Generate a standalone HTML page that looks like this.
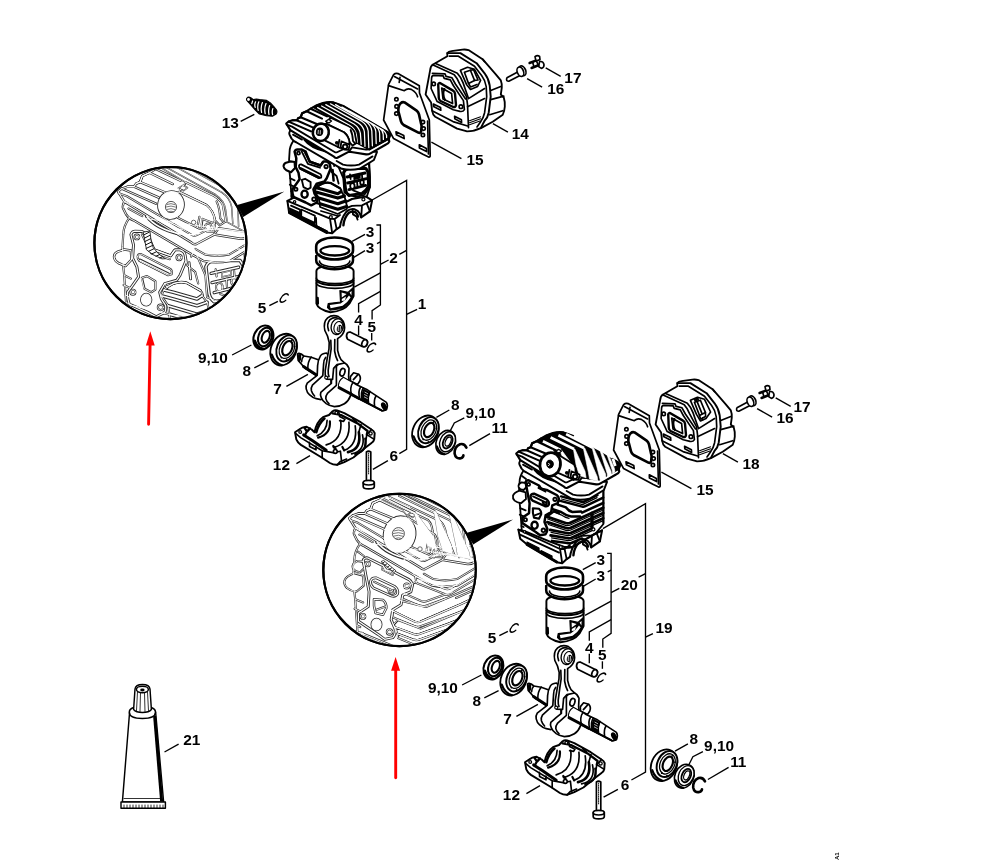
<!DOCTYPE html>
<html><head><meta charset="utf-8"><title>Engine parts diagram</title>
<style>
html,body{margin:0;padding:0;background:#fff;}
body{width:994px;height:861px;overflow:hidden;font-family:"Liberation Sans",sans-serif;}
svg{display:block;position:absolute;left:0;top:0;filter:blur(0.4px);}
.k{stroke:var(--c,#000);stroke-width:calc(var(--s,1)*1.45px);fill:var(--fw,#fff);stroke-linejoin:round;stroke-linecap:round;}
.n{stroke:var(--c,#000);stroke-width:calc(var(--s,1)*1.45px);fill:none;stroke-linejoin:round;stroke-linecap:round;}
.k2{stroke:var(--c,#000);stroke-width:calc(var(--s,1)*2.15px);fill:var(--fw,#fff);stroke-linejoin:round;stroke-linecap:round;}
.n2{stroke:var(--c,#000);stroke-width:calc(var(--s,1)*2.15px);fill:none;stroke-linejoin:round;stroke-linecap:round;}
.t{stroke:var(--c,#000);stroke-width:calc(var(--s,1)*0.8px);fill:none;stroke-linejoin:round;stroke-linecap:round;}
.b{stroke:var(--c,#000);stroke-width:calc(var(--s,1)*2.2px);fill:none;stroke-linejoin:round;stroke-linecap:round;}
.f{fill:var(--fb,#000);stroke:var(--c,#000);stroke-width:calc(var(--s,1)*1px);stroke-linejoin:round;}
.l{stroke:#000;stroke-width:1.35;fill:none;stroke-linecap:butt;}
.m{stroke:#222;stroke-width:0.8;fill:none;stroke-linejoin:round;stroke-linecap:round;}
.mw{stroke:#222;stroke-width:0.8;fill:#fff;stroke-linejoin:round;stroke-linecap:round;}
text{font-family:"Liberation Sans",sans-serif;font-weight:bold;font-size:15.4px;fill:#000;text-anchor:middle;}
</style></head><body>
<svg width="994" height="861" viewBox="0 0 994 861">
<rect x="0" y="0" width="994" height="861" fill="#fff"/>
<defs>
<!-- ===== rings (3,3) ===== -->
<g id="rings">
  <!-- lower ring -->
  <path class="b" fill="#fff" d="M316.2,256 L316.2,260.6 A18.4,8.6 0 0 0 353,260.6 L353,256" style="fill:#fff"/>
  <path class="n" d="M319.5,261 A15,6 0 0 0 349.8,261"/>
  <!-- upper ring -->
  <path d="M316.2,246.2 A18.4,8.7 0 0 1 353,246.2 L353,250.8 A18.4,8.7 0 0 1 316.2,250.8 Z" fill="#fff" style="stroke-width:calc(var(--s,1)*2.3px);stroke:var(--c,#000)"/>
  <ellipse cx="334.8" cy="250.8" rx="14.4" ry="4.7" fill="#fff" style="stroke-width:calc(var(--s,1)*2px);stroke:var(--c,#000)"/>
  <path class="t" d="M319,253.5 A16,6.5 0 0 0 350.5,253.5"/>
</g>
<!-- ===== piston ===== -->
<g id="piston">
  <path class="k" d="M316.4,271 L316.4,303.5 Q318,309.5 330.5,312.3 Q344,311 349.5,303.5 L353.6,296 L353.6,271 A18.6,6 0 0 0 316.4,271 Z" style="stroke-width:calc(var(--s,1)*1.7px)"/>
  <path class="n" d="M316.4,278.2 A18.6,5.4 0 0 0 353.6,278.2"/>
  <path class="b" d="M316.6,280.6 A18.6,5.4 0 0 0 353.4,280.6" style="stroke-width:calc(var(--s,1)*1.8px)"/>
  <path class="n" d="M316.4,283 A18.6,5.4 0 0 0 353.6,283"/>
  <!-- skirt cutout -->
  <path class="f" d="M339.9,290.6 L348,292.4 L352.9,288 L352.9,297.1 L348.3,303.6 Q345,307 340.5,308.8 L330.1,310.1 L327.5,307.5 L328.2,303.6 L340.5,302 Z"/>
  <path d="M329.8,305 L340.6,303.6 Q345.6,300.6 349,295.4 L350.6,297.6 Q347.4,303 342.6,305.8 L330.6,308.2 Z" fill="#fff"/>
  <path d="M341.6,292.6 L346.6,294 L341.8,297.6 Z M341.8,299 L346,296.4 L345,300.4 L341.8,301 Z M349.6,292.6 L351.6,291 L351.4,295.4 Z" fill="#fff"/>
  <path class="n" d="M317.6,298 L317.8,303.6" style="stroke-width:calc(var(--s,1)*2.2px)"/>
</g>
<!-- ===== wrist pin (4) ===== -->
<g id="pin">
  <path class="k" d="M347.2,333.2 Q345.6,336.8 347.6,339.2 L362.2,346.4 Q366.6,347.4 367.4,343.6 Q368,340.6 365.2,339.4 L350.6,332.2 Q348.2,331.6 347.2,333.2 Z" style="stroke-width:calc(var(--s,1)*1.5px)"/>
  <ellipse class="k" cx="364.6" cy="343.2" rx="2.6" ry="3.6" transform="rotate(25 364.6 343.2)"/>
</g>
<!-- ===== small clip c (5) at origin ===== -->
<g id="cc">
  <path d="M3.2,-3 Q2.2,-4.8 -0.2,-4 Q-3.2,-2.6 -3.8,1.2 Q-4,4.2 -1.4,4.2 Q0.6,4 1.8,2.4" fill="none" stroke-linecap="round" transform="skewX(-12)" style="stroke-width:calc(var(--s,1)*1.3px);stroke:var(--c,#000)"/>
</g>
<!-- ===== seal 9,10 at origin (left version) ===== -->
<g id="seal">
  <ellipse cx="0" cy="0" rx="9.6" ry="12.3" transform="rotate(22)" fill="#fff" style="stroke-width:calc(var(--s,1)*1.8px);stroke:var(--c,#000)"/>
  <ellipse cx="1.6" cy="-0.4" rx="6.6" ry="9.6" transform="rotate(22 1.6 -0.4)" fill="#fff" style="stroke-width:calc(var(--s,1)*1.8px);stroke:var(--c,#000)"/>
  <ellipse cx="2.4" cy="-0.6" rx="3.7" ry="6.2" transform="rotate(22 2.4 -0.6)" fill="#fff" style="stroke-width:calc(var(--s,1)*1.8px);stroke:var(--c,#000)"/>
  <path d="M-8.6,3.5 Q-6.5,10.5 -0.5,11.4" fill="none" stroke-linecap="round" style="stroke-width:calc(var(--s,1)*2.4px);stroke:var(--c,#000)"/>
</g>
<!-- ===== bearing 8 at origin ===== -->
<g id="bearing">
  <ellipse cx="0" cy="0" rx="12.6" ry="16.4" transform="rotate(24)" fill="#fff" style="stroke-width:calc(var(--s,1)*1.6px);stroke:var(--c,#000)"/>
  <ellipse cx="3" cy="-1.2" rx="9.6" ry="13.6" transform="rotate(24 3 -1.2)" fill="#fff" style="stroke-width:calc(var(--s,1)*1.7px);stroke:var(--c,#000)"/>
  <ellipse cx="3.4" cy="-1.3" rx="7.2" ry="10.6" transform="rotate(24 3.4 -1.3)" fill="#fff" style="stroke-width:calc(var(--s,1)*1.1px);stroke:var(--c,#000)"/>
  <ellipse cx="3.8" cy="-1.4" rx="4.6" ry="7.6" transform="rotate(24 3.8 -1.4)" fill="#fff" style="stroke-width:calc(var(--s,1)*1.9px);stroke:var(--c,#000)"/>
  <path d="M-11.8,5 Q-9,13.5 -1.5,15.6" fill="none" stroke-linecap="round" style="stroke-width:calc(var(--s,1)*1.9px);stroke:var(--c,#000)"/>
  <circle cx="8.2" cy="-9.4" r="0.9" style="fill:var(--fb,#000)"/><circle cx="11" cy="-3" r="0.9" style="fill:var(--fb,#000)"/>
  <circle cx="-2.2" cy="8" r="0.9" style="fill:var(--fb,#000)"/><circle cx="3" cy="10.4" r="0.9" style="fill:var(--fb,#000)"/>
</g>
<!-- ===== seal right version at origin ===== -->
<g id="sealr">
  <ellipse cx="0" cy="0" rx="9.4" ry="12.4" transform="rotate(24)" fill="#fff" style="stroke-width:calc(var(--s,1)*1.4px);stroke:var(--c,#000)"/>
  <ellipse cx="1.8" cy="-0.6" rx="7.4" ry="10.4" transform="rotate(24 1.8 -0.6)" fill="#fff" style="stroke-width:calc(var(--s,1)*1.2px);stroke:var(--c,#000)"/>
  <ellipse cx="2" cy="-0.6" rx="4.4" ry="7" transform="rotate(24 2 -0.6)" fill="#fff" style="stroke-width:calc(var(--s,1)*1.6px);stroke:var(--c,#000)"/>
  <ellipse cx="2.4" cy="-0.8" rx="2.6" ry="4.8" transform="rotate(24 2.4 -0.8)" fill="#fff" style="stroke-width:calc(var(--s,1)*1.1px);stroke:var(--c,#000)"/>
  <path d="M-8.8,4 Q-6.5,10.5 -1,11.8" fill="none" stroke-linecap="round" style="stroke-width:calc(var(--s,1)*1.8px);stroke:var(--c,#000)"/>
</g>
<!-- ===== circlip 11 at origin ===== -->
<g id="clip11">
  <path d="M5.6,-3.6 Q3.6,-8 -0.8,-7 Q-6.6,-4.6 -6.2,2.4 Q-5.2,8 0,7 Q2.4,6.4 2.6,4.2" fill="none" stroke-linecap="round" style="stroke-width:calc(var(--s,1)*2.3px);stroke:var(--c,#000)"/>
</g>
<!-- ===== bolt 6 ===== -->
<g id="bolt">
  <path class="k" d="M366.4,452 Q368.5,450.4 370.8,452 L370.8,481.5 L366.4,481.5 Z"/>
  <path class="t" d="M368.6,453 L368.6,474" stroke-dasharray="1.1 1.1"/>
  <path class="k" d="M363.2,482.6 Q363.2,480.4 368.7,480.4 Q374.3,480.4 374.3,482.6 L374.3,486.4 Q374.3,488.8 368.7,488.8 Q363.2,488.8 363.2,486.4 Z" style="stroke-width:calc(var(--s,1)*1.5px)"/>
  <path class="n" d="M363.2,482.8 Q363.2,485 368.7,485 Q374.3,485 374.3,482.8"/>
</g>

<!-- ===== crankshaft + conrod (7) ===== -->
<g id="crank">
  <!-- left shaft -->
  <path class="k" d="M297.6,355 Q297.2,353.6 299,353.4 L301.2,354 L303.8,356 L311.2,357.2 L319,360 L319,377 L305,368.2 L298.2,360.4 Z"/>
  <path d="M303.5,366.6 L318,376" fill="none" stroke-linecap="round" style="stroke-width:calc(var(--s,1)*2.6px);stroke:var(--c,#000)"/>
  <path class="n" d="M303.8,356 Q301.6,358.4 301.6,361.8 M311.2,357.2 Q307.6,361.4 307.8,369"/>
  <path class="f" d="M297.8,355.4 L300.6,354.4 L300.6,360 L298.6,360.6 Z"/>
  <!-- key behind right web -->
  <path class="k" d="M350.4,376.6 L353.6,372.8 L358.6,374.2 Q361.4,377 359.8,381 L357.6,384.4 L350.4,381 Z"/>
  <path class="n" d="M358.2,374.4 L353.4,379.6"/>
  <!-- right shaft -->
  <path class="k" d="M343.4,377.2 L352.8,382.4 L356.6,384.8 L366.8,389.4 L370,391.6 L386.4,402.4 Q388.4,405.6 386.4,408.8 Q384.4,411.6 381.6,410.6 L370.6,404.8 L358.4,398.4 L338.4,387.6 Z"/>
  <path d="M339,387.6 L358.6,398.2" fill="none" stroke-linecap="round" style="stroke-width:calc(var(--s,1)*2.6px);stroke:var(--c,#000)"/>
  <path d="M359,398.6 L381.6,410.4" fill="none" stroke-linecap="round" style="stroke-width:calc(var(--s,1)*1.9px);stroke:var(--c,#000)"/>
  <path class="n" d="M352.8,382.4 Q349.6,387.4 351,393.6 M360.6,387 Q357.8,391.6 359.6,398 M363.2,388.2 Q360.4,393 362,399.4"/>
  <path class="n" d="M370,391.6 Q367.4,396.4 368.6,403 M376,396 Q373.6,400 374.6,406.4"/>
  <path class="f" d="M364,389.4 L369.6,392.4 Q367.6,396.8 368.4,402.6 L362.6,399.4 Q361.4,393.6 364,389.4 Z"/>
  <path d="M364.6,392 L368,393.8 M364.2,394.4 L367.6,396.2 M364,396.8 L367.8,398.8" style="stroke-width:calc(var(--s,1)*0.6px);stroke:var(--ws,#fff)"/>
  <ellipse cx="384.2" cy="406.6" rx="2.6" ry="4.6" transform="rotate(-28 384.2 406.6)" style="fill:var(--fb,#000)"/>
  <!-- left web -->
  <path class="k" d="M326.4,353 Q321.4,353.6 320.2,356.4 Q318,360 317.6,365.6 L317.2,375.4 L307.2,383.2 Q305.4,386 306.2,388.8 Q307,392.6 309.4,394.6 Q313,398 316.2,398.6 L321,399.6 L331,393 L331,358 Z"/>
  <path class="n" d="M325.6,357.4 Q323.8,359.6 323.6,364 L322.8,375.6 L312.4,385.2 Q310.6,388 311.4,390.8 Q312.4,394 314.6,396"/>
  <!-- right web -->
  <path class="k" d="M332.4,365.2 Q333.4,363 336.4,362.6 L343.4,362.2 Q347.6,364 349,368.2 L348.6,376.6 L350.6,395.6 Q348.6,401 344.4,403.8 Q340,406.6 334.4,406.6 Q329.6,406 326.2,403.6 Q322.2,400.6 321.2,397.4 Q320,394.6 320.8,392.4 L326.4,387.4 L331.4,383.4 L331.4,375.4 Z"/>
  <path class="n" d="M336.4,369.2 Q335.6,366 338.4,364.4 M336.4,369.2 L336.4,385.4 L327.4,393.4 Q325.4,396 325.8,398.6 Q326.6,401.8 329,403.6"/>
  <ellipse class="k" cx="342.4" cy="372.2" rx="2.4" ry="3.9" transform="rotate(18 342.4 372.2)"/>
  <!-- shaft over right web (front part of right shaft) -->
  <path class="k" d="M343.4,377.2 L352.8,382.4 Q349.6,387.4 351,393.6 L338.6,387.4 Q337.6,381 343.4,377.2 Z" style="stroke-width:calc(var(--s,1)*1px)"/>
  <path d="M339,387.6 L351,394" fill="none" stroke-linecap="round" style="stroke-width:calc(var(--s,1)*2.6px);stroke:var(--c,#000)"/>
  <!-- conrod -->
  <path class="k" d="M324.8,330.4 Q323,322 327.6,317.8 Q332.6,314 338.4,316.6 Q344.6,320 344.6,327.6 Q344.4,333 340.4,336.6 L337.6,338.6 L337.6,350.4 Q338.6,355.6 341,359.6 L344.6,363 L337,364.6 L333.6,368.4 L332.6,379.4 L326.6,379.2 Q324.6,374.6 325.2,370.6 L327.4,357.4 Q329.6,349 329.2,342.4 Q328,335.6 324.8,330.4 Z"/>
  <path class="n" d="M328.6,330.6 Q326.2,323.6 330,319.6 Q334.6,316 339.4,319 M330.8,340.4 Q332,349 329.8,357.8 L328.2,370.4 Q328,374 329,376.6 M334.8,339.6 L334.6,351 Q335.6,357 337.6,360.6"/>
  <ellipse class="k" cx="337.2" cy="326.6" rx="6" ry="8" transform="rotate(14 337.2 326.6)" style="stroke-width:calc(var(--s,1)*1.2px)"/>
  <ellipse class="k" cx="338.4" cy="327.6" rx="4.4" ry="6.2" transform="rotate(14 338.4 327.6)" style="stroke-width:calc(var(--s,1)*1px)"/>
  <ellipse cx="339.4" cy="328.4" rx="2.5" ry="3.8" transform="rotate(14 339.4 328.4)" style="fill:var(--fb,#000)"/>
  <path d="M338.4,325.6 L338.2,331 M340.4,326 L340.2,331.4" style="stroke-width:calc(var(--s,1)*0.7px);stroke:var(--ws,#fff)"/>
  <circle class="k" cx="326.2" cy="377.6" r="1.5" style="stroke-width:calc(var(--s,1)*1px)"/>
</g>
<!-- ===== crankcase pan (12) ===== -->
<g id="pan">
  <path class="k" d="M295,432.2 L296.3,439.4 Q297.6,442.6 300.9,444.9 L321.7,457.5 L329.9,463 Q333.4,465 337.1,464.8 L344.3,462.1 L353.4,457.5 L364.3,448.5 L371.5,443 Q373.8,441.6 374.2,439.4 L374.7,433.1 Q373.8,430.8 371.5,429.5 L360.7,422.2 L344.3,413.2 L337.1,410.4 Q334.4,410 332.6,411.3 L329,415 L323.5,416.8 Q316.6,421.6 314.5,432.2 L311.7,429.5 L306.3,426.7 Q302,427 299.1,429.5 Z" style="stroke-width:calc(var(--s,1)*1.7px)"/>
  <!-- inner trough fill boundaries -->
  <path class="n" d="M295.6,433.4 L300.6,437.6 L322.2,450.7 L333,452.6 L340.4,451.2 L341.6,461.6 M322.2,450.7 L322.2,457.7"/>
  <path class="n" d="M374.2,439.4 L366.8,434.6 L364.6,448.2 M366.8,434.6 L371.5,429.5"/>
  <!-- saddle arcs (bulge to lower-right) -->
  <path class="b" d="M324.4,418.6 Q318.6,423.6 316.3,432.2" style="stroke-width:calc(var(--s,1)*2.3px)"/>
  <path class="n" d="M327.1,420.4 Q327,431 317.2,435.8"/>
  <path class="b" d="M329.9,421.3 Q331,434 318.1,437.6" style="stroke-width:calc(var(--s,1)*1.9px)"/>
  <path class="n" d="M340.7,420.4 Q343,440 326.2,444.9"/>
  <path class="n" d="M348.9,422.2 Q351,443 333.5,447.6"/>
  <path class="n" d="M355.2,425.8 Q358,445 344.3,450.3"/>
  <path class="b" d="M358.8,432.2 Q362,449 348,452.1" style="stroke-width:calc(var(--s,1)*2.3px)"/>
  <path class="n" d="M362.5,434.9 Q366,451 351.6,453.9"/>
  <path class="b" d="M365.2,438.5 Q368,451 355.2,453.9" style="stroke-width:calc(var(--s,1)*1.9px)"/>
  <!-- back rim -->
  <path class="b" d="M332.6,413.4 L341,415 L357.6,423.4 L367.6,431 L366.8,434.6" style="stroke-width:calc(var(--s,1)*2px)"/>
  <path class="n" d="M338.6,411 L339.6,416.6 L343.6,418.4 M352.6,418.6 L356.6,422 M361,424.6 L358.8,432.2 M345,419 L343.6,421.4 L339.6,420.6"/>
  <!-- front rim dark band -->
  <path d="M303.6,434.9 L313,441 L326.2,450.3" fill="none" stroke-linecap="round" style="stroke-width:calc(var(--s,1)*2.6px);stroke:var(--c,#000)"/>
  <path class="b" d="M304.4,427.6 L307,431.6 L310,428.4 M306.6,432 L304.6,435.6" style="stroke-width:calc(var(--s,1)*2px)"/>
  <path class="n" d="M309.4,442.4 L309.6,446.6 L316,449.8 L316,446"/>
  <circle class="k" cx="335.3" cy="451.4" r="1.9"/>
  <path class="b" d="M333.2,446 L335.6,448.8 M342.4,447 L344.2,450.4" style="stroke-width:calc(var(--s,1)*1.9px)"/>
  <circle class="k" cx="300.2" cy="432" r="1.4" style="stroke-width:calc(var(--s,1)*1.1px)"/>
  <circle class="k" cx="370.6" cy="433.4" r="1.6" style="stroke-width:calc(var(--s,1)*1.1px)"/>
  <circle class="k" cx="336.4" cy="412.8" r="1.4" style="stroke-width:calc(var(--s,1)*1.1px)"/>
  <path class="n" d="M337.1,464.8 L340.4,461.4 L346.6,459"/>
</g>

<!-- ===== gasket/heat shield (15) ===== -->
<g id="gasket">
  <path class="k" d="M393.6,74.6 Q395.6,72.8 398,73.6 L419.3,85.7 L419.5,93 L429.3,120 L430.2,155.6 Q430,157.6 428.6,157 L422.9,154.3 L393.6,138.6 L383.6,120 L388.6,84.3 Z" style="stroke-width:calc(var(--s,1)*1.5px)"/>
  <path class="n" d="M388.6,85.6 L404.3,90.7 Q407.6,87.6 411.6,89.6 Q416.6,92.4 417.6,96.8"/>
  <path class="n" d="M394.4,76.6 L417.6,89 M400,77.4 L399.2,82.4" />
  <path class="n" d="M427.6,121 L428.4,154"/>
  <path d="M400.7,103.2 Q402.4,101.6 404.6,102.4 L416.6,110.6 Q418.4,112 419,114.4 L421.6,126 L421.2,131 Q420.6,133.6 418.4,132.6 L403.6,125 Q401.6,123.6 401,121.4 L398.4,111.4 Q398,106 400.7,103.2 Z" fill="#fff" stroke-linejoin="round" style="stroke-width:calc(var(--s,1)*2.3px);stroke:var(--c,#000)"/>
  <circle class="k" cx="396.4" cy="99.3" r="1.7"/><circle class="k" cx="396.6" cy="106.4" r="1.7"/><circle class="k" cx="396.4" cy="113.6" r="1.7"/>
  <circle class="k" cx="422.9" cy="122.1" r="1.7"/><circle class="k" cx="423.6" cy="128.6" r="1.7"/><circle class="k" cx="422.9" cy="135" r="1.7"/>
  <path class="k" d="M396,131.8 L403.8,135.6 L404.2,138.6 L396.4,134.8 Z"/>
  <path class="k" d="M419.3,144.8 L426.4,148.4 L426.6,151.6 L419.4,148 Z"/>
</g>
<!-- ===== muffler body shared ===== -->
<g id="mufbody">
  <path class="k" d="M425.6,94.5 L430.1,70.3 Q430.6,66 432.6,64.7 L447.3,56.2 L447.3,53.1 Q448.6,51.4 451.3,51.1 L462.4,49.6 Q465.6,49.2 468.5,50.1 L482.6,59.2 L495.8,74.3 L500.8,80.4 Q502,83.6 501.8,87.5 L500.8,94.5 L503.8,97.6 Q505.2,102 504.8,106.7 Q504.4,111.6 502.8,114.7 L492.7,121.8 L481.4,127.9 Q474,131.4 467.1,131.4 L457.1,128.6 L435.2,116.8 Q432.6,114.6 432.1,110.7 L431.1,102.6 Z" style="stroke-width:calc(var(--s,1)*1.6px)"/>
  <!-- seam band -->
  <path class="n" d="M447.3,53.1 L460.4,53.1 L476.6,63.2 L484.6,73.3 Q488.8,79 489.7,85.5 L490.7,96.6 L488.7,112.7 Q487.6,118 484.6,120.8 L481,127.6" style="stroke-width:calc(var(--s,1)*1.7px)"/>
  <path class="n" d="M449.3,56.2 L458.4,56.2 L474.5,66.3 L481.6,75.4 Q485.4,80.4 486.2,86.5 L486.7,96.6 L484.6,112.7 Q483.4,118 480.6,121.8 L477,127"/>
  <!-- front right vertical edge -->
  <path class="n" d="M432.6,64.7 L454.3,74.8 Q457.4,78 459.4,83.4 L466.5,96.6 L467.5,104.6 L468.5,127.6"/>
  <path class="n" d="M435.6,63.4 L457.4,73.3 Q461,77 463,82.6 L468.5,98.6 L484.6,88.5 M467.5,106.7 L484.6,98.6"/>
  <!-- steps on right body -->
  <path class="n" d="M490.7,90.5 L500.8,86.5 M490.7,99.6 L503.8,96.1 M489.7,114.7 L502.8,110.7 M482.6,59.2 L484.6,61.7"/>
  <path class="n" d="M469.5,120.8 L480.6,116.8 M469.5,122.8 L480.6,118.8 M469.5,124.8 L480,121" style="stroke-width:calc(var(--s,1)*0.9px)"/>
  <!-- port flange -->
  <path class="n" d="M431.1,88.5 L431.6,78 Q431.6,75.6 434,75.4 L443.2,75.9 L444.2,78.4 L450.3,79.9 L453.3,85.5 L463.4,100.6 L464.4,109.6 Q463,112 460,111.4 L453.3,109.7 L437.2,101.6 Z"/>
  <path class="n" d="M432.4,73.4 L445,73.8 L446,76.4 L452,77.8 L455.4,84 L465.6,99"/>
  <path d="M438.2,84.4 Q438.6,82.6 440.4,83.2 L453,90.6 Q454.8,91.6 455,93.6 L456,105 Q455.6,107.6 453.3,107 L440.6,101 Q439,100 438.8,98 Z" fill="#fff" stroke-linejoin="round" style="stroke-width:calc(var(--s,1)*2.1px);stroke:var(--c,#000)"/>
  <path class="n" d="M441.7,88 L451.6,93.4 L452.6,103.6 L443,99 Z"/>
  <path class="n" d="M444.4,89 Q442,94 445,100" style="stroke-width:calc(var(--s,1)*1.8px)"/>
  <circle class="k" cx="433.7" cy="83.9" r="1.7"/><circle class="k" cx="460.9" cy="106.7" r="1.8"/>
  <path class="k" d="M433.4,104 L440.6,107.6 L440.8,110.2 L433.6,106.6 Z"/>
  <path class="k" d="M454.6,116.2 L461.4,119.8 L461.6,122.4 L454.8,118.8 Z"/>
  <path class="n" d="M432.1,110.7 L453,121.6 L467.6,126"/>
</g>
<g id="muf14">
  <use href="#mufbody"/>
  <path class="n" d="M460.4,70.3 L467.5,67.3 L474.5,69.3 L480.6,80.4 L477.6,86.5 L470.5,89.5 L466.5,84.4 Z"/>
  <path class="n" d="M464.4,72.3 L470.4,70.2 L474.5,80.4 L468.5,83.4 Z"/>
  <path class="n" d="M470.4,70.2 L473.6,69.6 L478,80 L474.5,80.4 M468.5,83.4 L470.6,87 L477,84.4"/>
</g>
<g id="muf18">
  <use href="#mufbody"/>
  <path class="n" d="M460.4,70.3 L467.5,67.3 L474.5,69.3 L480.6,82 L476,88.5 L470.5,91 L466.5,84.4 Z"/>
  <path class="n" d="M464.4,72.3 L470.4,70.2 L475.4,82.4 L469.5,85.4 Z"/>
  <path class="n" d="M467,71.4 L472,83.6 M469.5,85.4 L470.6,89 L475.6,86.4 L475.4,82.4 M472.6,87.8 L472.6,90"/>
  <path class="f" d="M464.4,69.6 L468,68 L468.4,69.6 L465,71 Z"/>
</g>
<!-- ===== screw 16 ===== -->
<g id="screw16">
  <path class="k" d="M507.4,77.4 L518.6,71.6 L520,75.4 L508.8,81.2 Q506.6,81.4 506.6,79.6 Q506.4,78.2 507.4,77.4 Z"/>
  <ellipse class="k" cx="522.4" cy="70.8" rx="3.3" ry="5.1" transform="rotate(-22 522.4 70.8)" style="stroke-width:calc(var(--s,1)*1.5px)"/>
  <ellipse class="k" cx="520.4" cy="71.8" rx="3.1" ry="4.9" transform="rotate(-22 520.4 71.8)"/>
</g>
<!-- ===== clip 17 ===== -->
<g id="clip17">
  <path d="M529.6,63 L536.4,60.4 M531.6,68 L539,65" fill="none" stroke-linecap="round" style="stroke-width:calc(var(--s,1)*2.2px);stroke:var(--c,#000)"/>
  <path class="k" d="M535,56.6 Q537.4,54.6 539.6,56.4 L540,59.6 L536,61 Z"/>
  <path class="k" d="M539.6,61.6 Q543.4,61 544,64.6 Q544.2,67.6 541.4,68.4 L538.6,66.6 Z"/>
  <path class="n" d="M536.2,60.6 L538.8,66 M532.6,62 L534,67"/>
</g>
<!-- ===== spark plug 13 ===== -->
<g id="plug">
  <path class="f" d="M246.8,100.4 Q246,98.2 247.6,97.4 Q249.2,96.8 250.8,97.8 L253.4,99.6 L256.4,99 L259.6,99.6 L266.6,100.4 L270.4,103 L273.6,106.4 L276.6,110.2 Q277.4,112.4 276.2,114 L272.4,116.2 L266.4,115.8 L259.4,114 L255.4,110 L250.6,104.6 Z"/>
  <circle cx="248.5" cy="99.5" r="1.4" fill="#fff"/>
  <path d="M252.6,101 L251.8,103.6 M255.6,101.8 Q254.2,104.4 255.2,107.4 M258.8,101.8 Q257,105.6 258.2,110.4 M262.4,102.6 Q260.4,107 261.6,112.4 M266,103.6 Q264,108.4 265.2,113.6 M269.6,105.6 Q268,109.8 269,114.4 M272.8,108.6 Q271.8,111.6 272.6,114.6" fill="none" stroke-linecap="round" style="stroke-width:calc(var(--s,1)*1.1px);stroke:var(--ws,#fff)"/>
</g>

<!-- ===== cylinder head (shared) ===== -->
<g id="cylhead">
  <!-- lower slab under head plate (wraps front) -->
  <path class="k" d="M290.3,130.1 Q288.8,133 289.5,134.5 L291.5,138.5 Q293.6,141.6 296.6,142.5 L334,164.4 L341.8,168.8 Q350,170.8 359.5,168.8 L373.9,160 L377,152 L350,148 L334,150 Z" style="stroke-width:calc(var(--s,1)*1.6px)"/>
  <path class="n" d="M336.6,161 L343,164.6 Q351,166.4 359,164.6 L372.6,156.4"/>
  <!-- cylinder dome curve beneath boss -->
  <path d="M305,139.6 Q311,147.6 326,151 Q334,152.6 339.6,150.6" fill="none" stroke-linecap="round" style="stroke-width:calc(var(--s,1)*2.6px);stroke:var(--c,#000)"/>
  <path class="n" d="M308.6,139 Q315,146 328,148.6"/>
  <path class="n" d="M293,134.6 L302,139.6"/>
  <!-- head plate + fin block silhouette -->
  <path class="k" d="M286.2,123.5 L288.6,121.6 L292.5,120.3 L296.6,120.3 L298.1,118.3 L300.6,117.3 L302.1,113.3 L306.7,111.2 L310.7,108.7 L316.8,105.2 L322.9,103 Q328,101.6 332.9,102.2 L344,106.3 L388.2,132.3 Q390.4,134 389.9,136 L388.8,139 L389.3,141.7 Q388.6,143.6 386,144.5 L370.5,153.3 Q368.4,154.6 366.1,154.4 L352.8,152.2 L349,151.6 L337.4,157.8 Q335.6,158.4 334,156.7 L290.3,130.1 Z" style="stroke-width:calc(var(--s,1)*1.7px)"/>
  <!-- plate thickness line -->
  <path class="n" d="M286.6,124.6 L292,126.6 L334.6,152 Q336,152.8 337.6,152 L348.6,146.6"/>
  <path class="n" d="M349,151.6 L352,147.4 L366,149.6 Q368.4,149.8 370,148.8 L388.8,139"/>
  <!-- left steps of fin block -->
  <path class="n" d="M292.5,120.3 L296.6,120.3 L312.7,127.4 M298.1,118.3 L300.6,117.3 L316.8,124 M302.1,113.3 L306.7,111.2 L322,118.6 M310.7,108.7 L327,116.4 M300.6,117.3 L302.1,113.3 M288.6,121.6 L311,131.4" style="stroke-width:calc(var(--s,1)*1.7px)"/>
  <!-- dark fins, right/top part -->
  <path class="f" d="M313,107.2 L316.8,105.2 L322.9,103 Q328,101.6 332.9,102.2 L344,106.3 L388.2,132.3 Q390.4,134 389.9,136 L388.8,139 L369.4,150 L356.6,143 L354.6,132 Q352,127.4 346,125 L330.6,117.6 Z"/>
  <path d="M317.6,107.6 L350,125.6 Q355.4,129 356.4,135 L357.4,142.4 M321.6,106 L354,124 Q359.4,127.6 360.4,133.4 L361.2,144.4 M325.8,104.6 L358,122.6 Q363.4,126 364.4,132 L365,146.4 M330.4,103.8 L362,121.4 Q367.4,125 368.2,131 L368.8,147.6 M335.6,104.6 L366,121.8 Q371,125 371.8,130.8 L372.4,145.8 M342,107 L370.4,123 Q375,126.2 375.8,131.4 L376.2,143.6 M349.6,111 L375,125.4 Q379,128.2 379.6,133 L379.8,141.4 M357.6,115.6 L379.4,128 Q382.8,130.4 383.2,134.4 L383.4,139.4 M366,120.4 L383.4,130.4 Q386.2,132.4 386.6,135.4 L386.6,137.6" fill="none" stroke-linecap="round" style="stroke-width:calc(var(--s,1)*1px);stroke:var(--ws,#fff)"/>
  <!-- front panel of fin block (white, right of boss) -->
  <path class="k" d="M326.3,123.6 L344,132.3 Q348.6,136 349.6,142.4 L352.6,145.6 L356.6,143 L354.6,132 Q352,127.4 346,125 L330.6,117.6 Z"/>
  <path class="n" d="M350.6,130 Q352.6,134 353,141 L355,143.4"/>
  <!-- boss cylinder -->
  <path class="k" d="M322,124 L326.3,124 L344,132.3 Q348.6,136 349.5,142.3 L347.6,148.6 L339.5,147.8 L325.2,140.6 Z"/>
  <!-- decompression valve / small bits -->
  <circle cx="336.8" cy="142.8" r="1.9" style="fill:var(--fb,#000)"/>
  <path class="k" d="M341.4,141.4 L345.6,143 L349.6,144.6 L348.6,149.8 L344.2,149.6 L340.6,147 Z"/>
  <circle class="k" cx="345.1" cy="146.7" r="2.2"/>
  <path class="n" d="M339.4,140 L338,147"/>
  <path class="k" d="M325.6,121.2 L328.6,119.4 L331.6,121 L329,123 Z" style="stroke-width:calc(var(--s,1)*1px)"/>
</g>
<g id="cylhead2">
  <!-- lower slab under head plate (wraps front) -->
  <path class="k" d="M290.3,130.1 Q288.8,133 289.5,134.5 L291.5,138.5 Q293.6,141.6 296.6,142.5 L334,164.4 L341.8,168.8 Q350,170.8 359.5,168.8 L373.9,160 L377,152 L350,148 L334,150 Z" style="stroke-width:calc(var(--s,1)*1.6px)"/>
  <path class="n" d="M336.6,161 L343,164.6 Q351,166.4 359,164.6 L372.6,156.4"/>
  <!-- cylinder dome curve beneath boss -->
  <path d="M305,139.6 Q311,147.6 326,151 Q334,152.6 339.6,150.6" fill="none" stroke-linecap="round" style="stroke-width:calc(var(--s,1)*2.6px);stroke:var(--c,#000)"/>
  <path class="n" d="M308.6,139 Q315,146 328,148.6"/>
  <path class="n" d="M293,134.6 L302,139.6"/>
  <!-- head plate + fin block silhouette -->
  <path class="k" d="M286.2,123.5 L288.6,121.6 L292.5,120.3 L296.6,120.3 L298.1,118.3 L300.6,117.3 L302.1,113.3 L306.7,111.2 L310.7,108.7 L316.8,105.2 L322.9,103 Q328,101.6 332.9,102.2 L344,106.3 L388.2,132.3 Q390.4,134 389.9,136 L388.8,139 L389.3,141.7 Q388.6,143.6 386,144.5 L370.5,153.3 Q368.4,154.6 366.1,154.4 L352.8,152.2 L349,151.6 L337.4,157.8 Q335.6,158.4 334,156.7 L290.3,130.1 Z" style="stroke-width:calc(var(--s,1)*1.7px)"/>
  <!-- plate thickness line -->
  <path class="n" d="M286.6,124.6 L292,126.6 L334.6,152 Q336,152.8 337.6,152 L348.6,146.6"/>
  <path class="n" d="M349,151.6 L352,147.4 L366,149.6 Q368.4,149.8 370,148.8 L388.8,139"/>
  <!-- left steps of fin block -->
  <path class="n" d="M292.5,120.3 L296.6,120.3 L312.7,127.4 M298.1,118.3 L300.6,117.3 L316.8,124 M302.1,113.3 L306.7,111.2 L322,118.6 M310.7,108.7 L327,116.4 M300.6,117.3 L302.1,113.3 M288.6,121.6 L311,131.4" style="stroke-width:calc(var(--s,1)*1.7px)"/>
  <!-- dark block -->
  <path class="f" d="M307,110.6 L310.7,108.7 L316.8,105.2 L322.9,103 Q328,101.6 332.9,102.2 L344,106.3 L388.2,132.3 Q390.4,134 389.9,136 L388.8,139 L369.4,150 L352,148 L334,132 L322,118 Z"/>
  <!-- white ribs -->
  <path d="M312.9,111.3 L330.7,120.1 M320.6,107.4 L344.0,119.0 M328.4,105.2 L353.9,117.9 M336.1,104.1 L362.8,117.9 M343.9,105.7 L370.5,120.1 M352.7,109.7 L377.2,123.5 M363.8,115.8 L382.7,127.3 M382.9,128.6 L385.3,136" fill="none" stroke-linecap="butt" stroke-linejoin="round" style="stroke-width:calc(var(--s,1)*2.2px);stroke:var(--ws,#fff)"/>
  <!-- white wedges + end panels -->
  <path d="M330.1,120.1 L333.5,131.2 L339.5,142.3 L345.1,144.5 L343.4,136.2 L331.5,120.1 Z M343.4,119.0 L346.2,135.6 L349.5,145.6 L356.1,147.8 L355.0,141.2 L344.8,119.0 Z M353.3,117.9 L358.4,142.3 L359.5,148.9 L367.8,151.1 L367.2,146.7 L354.7,117.9 Z M362.2,117.9 L369.4,146.7 L370.5,151.1 L376.1,148.4 L375.5,143.9 L363.6,117.9 Z M369.9,120.1 L377.2,143.4 L377.7,147.2 L381.6,145.0 L381.0,141.2 L371.3,120.1 Z M376.6,123.5 L382.2,140.1 L382.7,143.4 L384.9,141.7 L384.4,138.4 L378.0,123.5 Z" fill="#fff" stroke-linejoin="round" style="stroke-width:calc(var(--s,1)*0.5px);stroke:var(--ws,#fff)"/>
  <!-- boss cylinder -->
  <path class="k" d="M324,122.6 L329.6,125.4 L344,134.5 Q346.4,138 345.6,142.6 L343.6,150 L339.5,147.8 L325.2,141.6 Z"/>
  <!-- decompression valve / small bits -->
  <circle cx="336.8" cy="142.8" r="1.9" style="fill:var(--fb,#000)"/>
  <path class="k" d="M341.4,141.4 L345.6,143 L349.6,144.6 L348.6,149.8 L344.2,149.6 L340.6,147 Z"/>
  <circle class="k" cx="345.1" cy="146.7" r="2.2"/>
  <path class="n" d="M339.4,140 L338,147"/>
  <path class="k" d="M325.6,121.2 L328.6,119.4 L331.6,121 L329,123 Z" style="stroke-width:calc(var(--s,1)*1px)"/>
</g>
<!-- ===== cylinder base (shared) ===== -->
<g id="cylbase">
  <path class="k" d="M287.4,200.9 L289.1,212.5 L326.7,232.4 L332.2,233.2 L336.7,229.1 L340,226.9 Q341,218.6 346.6,211.4 Q350.4,208.4 354.4,209.2 Q358.4,210.6 359.9,213.6 L361.2,217.4 L369.9,211.4 L372.1,200.3 L366,196.6 L352,199 L338,206 L320,204 L294,197.6 Z" style="stroke-width:calc(var(--s,1)*1.6px)"/>
  <!-- top face edge -->
  <path class="n" d="M287.4,200.9 L330,218.6 L334.6,219 L340,215 M330,218.6 L332.2,233.2 M334.6,219 L336.7,229.1"/>
  <path class="n" d="M372.1,200.3 L362,205.4 L352,205.8 L345.6,208.4 M362,205.4 L361.2,217.4 M369.9,211.4 L366.6,203.2"/>
  <!-- arch inner -->
  <path class="b" d="M343.4,225.4 Q344,218 348.6,213 Q352,210.6 355.6,212.4 Q357.6,214 358,216.6" style="stroke-width:calc(var(--s,1)*1.9px)"/>
  <path class="n" d="M352.6,210.4 L353,214.4 L356.4,216.4 L357.6,219.6"/>
  <!-- front-left face details -->
  <path d="M289.6,212.6 L326.7,232.2" fill="none" stroke-linecap="round" style="stroke-width:calc(var(--s,1)*2.6px);stroke:var(--c,#000)"/>
  
  <path class="k" d="M301.4,209.6 L314.8,215.8 L314.8,222.6 L301.4,216.4 Z" style="stroke-width:calc(var(--s,1)*1.2px)"/>
  <path class="n" d="M291,205.6 L300,209.6 L300,216.6 M316,218 L316.4,226 L327,231.4 M289.4,208.4 L300,213"/>
  <circle class="k" cx="294.6" cy="201.8" r="1.2" style="stroke-width:calc(var(--s,1)*1px)"/>
  <circle class="k" cx="330.8" cy="217" r="1.5" style="stroke-width:calc(var(--s,1)*1px)"/>
  <circle class="k" cx="363.4" cy="199.4" r="1.5" style="stroke-width:calc(var(--s,1)*1px)"/>
</g>
<g id="cylbase2">
  <path class="k" d="M288.4,199.6 L290.2,208.7 L296.8,214.3 L326.7,232.2 L332.2,233.2 L336.7,229.1 L340,226.9 Q341,218.6 346.6,211.4 Q350.4,208.4 354.4,209.2 Q358.4,210.6 359.9,213.6 L361.2,217.4 L369.9,211.4 L372.1,200.3 L366,203.4 L343,216.8 Q339,218.6 335,217.2 L320,211.6 L294,201 Z" style="stroke-width:calc(var(--s,1)*1.6px)"/>
  <!-- top face edge -->
  <path class="n" d="M288.4,199.6 L330,219 L334.6,219 L340,215 M330,218.6 L332.2,233.2 M334.6,219 L336.7,229.1"/>
  <path class="n" d="M372.1,200.3 L362,205.4 L352,205.8 L345.6,208.4 M362,205.4 L361.2,217.4 M369.9,211.4 L366.6,203.2"/>
  <!-- arch inner -->
  <path class="b" d="M343.4,225.4 Q344,218 348.6,213 Q352,210.6 355.6,212.4 Q357.6,214 358,216.6" style="stroke-width:calc(var(--s,1)*1.9px)"/>
  <path class="n" d="M352.6,210.4 L353,214.4 L356.4,216.4 L357.6,219.6"/>
  <!-- front-left face details -->
  <path d="M297,214.6 L326.7,232" fill="none" stroke-linecap="round" style="stroke-width:calc(var(--s,1)*2.2px);stroke:var(--c,#000)"/>
  
  <path class="f" d="M297,212 L309,218 L309,220 L297,214 Z M311,220.6 L322,226 L322,228 L311,222.6 Z"/>
  <path class="n" d="M290,204.6 L329,222.6"/>
  <circle class="k" cx="294.6" cy="201.8" r="1.2" style="stroke-width:calc(var(--s,1)*1px)"/>
  <circle class="k" cx="330.8" cy="217" r="1.5" style="stroke-width:calc(var(--s,1)*1px)"/>
  <circle class="k" cx="363.4" cy="199.4" r="1.5" style="stroke-width:calc(var(--s,1)*1px)"/>
</g>
<!-- ===== intake flange (shared-ish) ===== -->
<g id="flange1">
  <path class="k" d="M294.6,151.6 Q295.4,149.4 297.4,149.4 L301.8,149.6 L305.7,151.6 L309.5,161.6 L320.6,165.5 L323.4,161.6 L326.7,161.6 Q329.6,162.6 330,164.9 L330.6,168.8 L326.7,178.2 L324.5,181.5 L316.7,183.7 L313.4,189.3 L314.5,193.7 L317.3,198.1 Q317.6,201.4 316.7,202.5 L311.2,205.3 L305.7,202.5 L293.5,197 Q292,193 292.4,189.3 L295.7,184.8 L299.6,179.3 L298.5,172.7 L295.7,167.1 L296.3,158.3 Z" style="stroke-width:calc(var(--s,1)*2px)"/>
  <path class="b" d="M305.1,152.7 L310.1,161.6 L320.6,165.5 L322.8,162.2" style="stroke-width:calc(var(--s,1)*1.8px)"/>
  <path class="n" d="M301.8,151.6 L307.9,163.8 L320,167.7"/>
  <circle class="k" cx="298.5" cy="153.2" r="1.5"/><circle class="k" cx="326.1" cy="166.6" r="1.7"/>
  <circle class="k" cx="295.9" cy="189.3" r="1.6"/><circle class="k" cx="314" cy="199.2" r="1.8"/>
  <path class="k" d="M299,165.8 Q299.4,164 301.2,164.4 L320.6,174.3 Q321.8,175.6 321.2,177.6 L318.9,178.2 L300.1,168.8 Q298.8,167.6 299,165.8 Z"/>
  <path d="M300.6,168.4 L319,177.4" stroke-linecap="round" style="stroke-width:calc(var(--s,1)*2.2px);stroke:var(--c,#000)"/>
  <path class="k" d="M301.8,179.9 L305.1,178.8 L310.6,182.1 L310.6,187.6 L307.9,189.3 L303.5,187.1 Z" style="stroke-width:calc(var(--s,1)*1.5px)"/>
  <ellipse cx="304.6" cy="194.2" rx="3.1" ry="3.6" fill="#fff" style="stroke-width:calc(var(--s,1)*1.9px);stroke:var(--c,#000)"/>
</g>
<!-- ===== cylinder 1 body ===== -->
<g id="cyl1">
  <!-- body silhouette -->
  <path class="k" d="M294,140 Q289.6,146 289.6,151.6 L289.1,159.4 L289.6,172.7 L290.2,178.2 L291.8,201 L330,212 L366,199 L369.9,187.1 L369.9,177.1 L368.7,150 L340,146 Z"/>
  <use href="#cylbase"/>
  <!-- left boss -->
  <path class="k" d="M290.4,161.4 L286,162.8 Q283.4,164 283.6,166.4 Q284,169 286.4,170.2 L291,172.2 L295,168 L294.6,162 Z" style="stroke-width:calc(var(--s,1)*1.7px)"/>
  <path class="n" d="M290.2,178.2 L294.6,180.4 M289.8,184.6 L294.4,186.8 M291.2,191.2 L294.2,192.8 M291.4,196 L293.6,197"/>
  <!-- right/exhaust side window -->
  <path class="k" d="M335.5,160 L340,170.5 L343.3,178.2 L344.4,192.6 L355.5,197 L364.3,194.8 L369.9,187.1 L369.9,177.1 L368.7,162 L352,158 Z"/>
  <path class="b" d="M343.6,172.6 Q345,169 349,168.6 L366,168.6 L368,172 L368.6,186 Q366,191.4 362,193.4 L349,195.6 Q345.6,193 345.4,188 Z" style="stroke-width:calc(var(--s,1)*2.4px)"/>
  <path class="b" d="M347,177 L365,173 M347.6,183 L366.6,178.6 M349,189.6 L365.6,185.4" style="stroke-width:calc(var(--s,1)*2.3px)"/>
  <path class="n" d="M350,174.4 L350.6,179 M357,180.6 L357.4,186 M362,175 L362.4,180 M353,190.4 L360,193"/>
  <ellipse class="k" cx="352.4" cy="186" rx="2.2" ry="2.8" />
  <ellipse class="k" cx="362" cy="182.4" rx="1.8" ry="2.4" />
  <path class="f" d="M354,176.6 L360,175.2 L360,178 L354,179.4 Z"/>
  <!-- center column -->
  <path class="n" d="M330.6,168.8 L331.6,172 L336.6,176 L338.6,183.6 M335.5,162.7 L334,166"/>
  <path class="b" d="M332.6,170 L333.6,180.6" style="stroke-width:calc(var(--s,1)*2px)"/>
  <!-- lower fins stack -->
  <path class="k" d="M314.5,191.5 L316.2,187.6 L322.3,183.7 Q327,182 331.1,183.2 L340,188.2 Q342,190 341.1,191.5 L344.4,195.9 L345.5,200.3 L346.6,204.8 L346.6,209 L337.8,214 L320.1,207 L318.9,198.1 Z"/>
  <path class="b" d="M316.2,187.8 L322.3,189.3 L337.8,193.7 L341.1,191.5" style="stroke-width:calc(var(--s,1)*2.5px)"/>
  <path class="b" d="M315,191.8 L322.3,193.7 L337.8,198.1 L344.4,195.9" style="stroke-width:calc(var(--s,1)*2.5px)"/>
  <path class="b" d="M318.9,198.1 L337.8,203.7 L345.8,201" style="stroke-width:calc(var(--s,1)*2.5px)"/>
  <path class="b" d="M320.1,203.7 L337.8,209.2 L346.6,206.4" style="stroke-width:calc(var(--s,1)*2.5px)"/>
  <path class="b" d="M318,185.8 L322.3,183.7 Q327,182 331.1,183.2 L340,188.2" style="stroke-width:calc(var(--s,1)*1.8px)"/>
  <path class="n" d="M316.7,183.7 L318.4,186.4 M321,211 L337.8,216"/>
  <path class="f" d="M290,209.4 L301,214 L314.5,220.4 L314.8,226 L290.2,213 Z"/><path class="k" d="M301.4,209.6 L314.8,215.8 L314.8,222.6 L301.4,216.4 Z" style="stroke-width:calc(var(--s,1)*1.2px)"/>
  <use href="#flange1"/>
  <use href="#cylhead"/>
  <use href="#boss1"/>
</g>

<g id="boss1">
  <ellipse cx="320.8" cy="132.3" rx="8" ry="8.7" transform="rotate(12 320.8 132.3)" fill="#fff" style="stroke-width:calc(var(--s,1)*2.1px);stroke:var(--c,#000)"/>
  <ellipse cx="319.6" cy="131.8" rx="3.2" ry="3.8" transform="rotate(12 319.6 131.8)" style="stroke-width:calc(var(--s,1)*0.8px);fill:var(--fb,#000);stroke:var(--c,#000)"/>
  <path d="M318.4,130 L318,134 M320.4,130.2 L320.2,134.4" style="stroke-width:calc(var(--s,1)*0.6px);stroke:var(--ws,#fff)"/>
</g>
<g id="boss2">
  <ellipse cx="320.2" cy="134.5" rx="10.2" ry="12" transform="rotate(14 320.2 134.5)" fill="#fff" style="stroke-width:calc(var(--s,1)*2.2px);stroke:var(--c,#000)"/>
  <path d="M316.6,132.4 Q317.6,129.6 320.6,130.2 Q323.6,131.2 323.4,134.6 Q322.8,138 319.8,138.2 Q316.4,137.4 316.6,132.4 Z" style="stroke-width:calc(var(--s,1)*0.8px);fill:var(--fb,#000);stroke:var(--c,#000)"/>
  <path d="M318.4,133 L319.6,134.6 L318.2,136" fill="none" style="stroke-width:calc(var(--s,1)*0.8px);stroke:var(--ws,#fff)"/>
</g>
<!-- ===== flange for cyl 2 ===== -->
<g id="flange2">
  <path class="k" d="M295.6,152 Q296,150.4 297.8,150.2 L299,150.5 L309,155.5 L311,158.6 L316.7,159.9 L326.6,165 Q328.6,166.4 328.9,168.8 L327.8,173.2 L322.3,175.4 L321.2,182 L315.6,185.4 L314.5,192 L317.3,198.7 Q317.4,202.4 315.6,204.2 L310.1,205.3 L305.7,202 L292.4,193.1 L292.4,187.6 L299,183.2 L299.6,173.2 L297.4,162.1 Z" style="stroke-width:calc(var(--s,1)*2px)"/>
  <circle class="k" cx="298.6" cy="154.4" r="1.5"/><circle class="k" cx="325" cy="169.3" r="1.7"/>
  <circle class="k" cx="295.4" cy="189.8" r="1.6"/><circle class="k" cx="313.4" cy="200.3" r="1.8"/>
  <path class="k" d="M300.6,166 Q301.4,163.4 304.6,163.8 L316.6,169.4 Q319.6,171.6 318.8,174.6 Q317.6,176.8 314.6,176 L302.6,170.6 Q300.2,168.6 300.6,166 Z" style="stroke-width:calc(var(--s,1)*1.9px)"/>
  <path class="n" d="M303,166.4 L315.6,172.4 M312.6,171.4 Q312.6,174 315.4,174.4 Q317.6,174 316.6,171.8"/>
  <path class="k" d="M302.9,178.2 L309,178.7 Q311.6,181 311.2,184.3 L309,188.7 L304,187.6 Q302.4,183 302.9,178.2 Z" style="stroke-width:calc(var(--s,1)*1.7px)"/>
  <path class="n" d="M304.6,185.4 L310.6,183.2"/>
  <ellipse cx="304.6" cy="195.3" rx="3.1" ry="3.6" fill="#fff" style="stroke-width:calc(var(--s,1)*1.9px);stroke:var(--c,#000)"/>
  <path class="f" d="M308.6,156.6 L316,160.4 L315.6,162 L308.2,158.2 Z"/>
</g>
<!-- ===== cylinder 2 body ===== -->
<g id="c2a">
  <path class="k" d="M294,140 Q289.6,146 289.6,151.6 L289.1,159.4 L289.6,172.7 L290.2,178.2 L291.8,201 L330,217 L342,217 L366,203 L373.4,194 L373.4,160 L368.7,150 L340,146 Z"/>
  
  <!-- left boss + small fins -->
  <path class="k" d="M289.4,160.6 Q284,162.6 283,165.6 Q282.4,168.4 284.6,170.6 Q287,172.6 291,173.2 L296,169 L295.6,162.4 Z"/>
  <path class="k" d="M291.6,152.4 Q288,154 288.6,157 Q289.6,159.6 293.6,160 L296.6,157 L295.6,153 Z"/>
  <path class="n" d="M290.2,178.2 L295.6,180.4 M289.8,184.6 L294.4,186.8 M291.4,196 L293.6,197 M292,146 L296,149"/>
</g>
<g id="c2f">
  <path class="b" d="M331.1,166.4 L353.3,172.2 L367.4,165.2" style="stroke-width:calc(var(--s,1)*2px)"/>
  <path class="b" d="M329.4,170.6 L352.2,176.6 Q353.8,177 355.4,176.2 L373.2,167.6" style="stroke-width:calc(var(--s,1)*2px)"/>
  <path class="n" d="M331.6,169 L352.6,174.6 L367,167.6" style="stroke-width:calc(var(--s,1)*1px)"/>
  <path class="b" d="M327.6,174.6 L336,177.4 Q338.6,181 342.4,182 L351,181.6" style="stroke-width:calc(var(--s,1)*2px)"/>
  <path class="b" d="M322,179 L331,182 Q336,185.6 341,186.4 L350,186.6" style="stroke-width:calc(var(--s,1)*2px)"/>
  <path class="n" d="M324,182 L331,184.8 Q335,187.6 339,188.4" style="stroke-width:calc(var(--s,1)*1px)"/>
  <path class="b" d="M352.0,182.6 L373.2,173.0" style="stroke-width:calc(var(--s,1)*2px)"/>
  <path class="b" d="M316.7,186.6 L335.6,193.0 Q338.0,193.8 340.4,192.7 L373.2,177.7" style="stroke-width:calc(var(--s,1)*2.2px)"/>
  <path class="n" d="M317.7,189.0 L335.6,195.3 Q338.0,196.1 340.4,195.0 L373.2,180.0" style="stroke-width:calc(var(--s,1)*1px)"/>
  <path class="b" d="M317.3,192.1 L336.0,198.0 Q338.4,198.8 340.8,197.7 L373.2,183.0" style="stroke-width:calc(var(--s,1)*2.2px)"/>
  <path class="n" d="M318.3,194.5 L336.0,200.3 Q338.4,201.1 340.8,200.0 L373.2,185.3" style="stroke-width:calc(var(--s,1)*1px)"/>
  <path class="b" d="M320.1,199.9 L336.4,203.0 Q338.8,203.8 341.2,202.7 L373.2,188.3" style="stroke-width:calc(var(--s,1)*2.2px)"/>
  <path class="n" d="M321.1,202.3 L336.4,205.3 Q338.8,206.1 341.2,205.0 L373.2,190.6" style="stroke-width:calc(var(--s,1)*1px)"/>
  <path class="b" d="M320.6,205.4 L336.8,208.0 Q339.2,208.8 341.6,207.7 L361.6,198.6" style="stroke-width:calc(var(--s,1)*2.2px)"/>
  <path class="n" d="M321.6,207.8 L336.8,210.3 Q339.2,211.1 341.6,210.0 L361.6,200.9" style="stroke-width:calc(var(--s,1)*1px)"/>
  <path class="b" d="M322.0,211.0 L337.2,213.0 Q339.6,213.8 342.0,212.7 L352.0,208.6" style="stroke-width:calc(var(--s,1)*2.2px)"/>
  <path d="M362,183 L362,199" fill="none" stroke-linecap="round" style="stroke-width:calc(var(--s,1)*2.6px);stroke:var(--c,#000)"/>
  <path class="n" d="M373.4,160 L373.4,193"/>
  <path class="b" d="M318,185.8 L324,181.4 L329,183.2" style="stroke-width:calc(var(--s,1)*1.7px)"/>
</g>
<g id="c2b">
  <use href="#flange2"/>
  <use href="#cylhead2"/>
  <use href="#boss2"/>
</g>
<g id="cyl2"><use href="#c2a"/><use href="#c2f"/><use href="#cylbase2"/><use href="#c2b"/></g>
<g id="m2extra">
  <path class="n2" d="M381.3,497.9 L428,520 Q432,524 432.6,531 L436.6,555.2 M389.2,496.9 L440,521 Q445,525 446.5,535.5 L454.4,555.2 M399,495.9 L450,520.4 Q455,524 456.4,541.4 L459.3,557.2 M408.9,495.5 L458,519 Q463,522.6 464,536 L465,552 M420,495.6 L464,516 Q468.6,519 469.6,530 L470.6,546"/>
</g>
<g id="m1extra">
  <path class="n2" d="M196,176 L226,196 Q229,199 229.6,206 L231,226 M204,174 L232,193 Q235.6,196 236,204 L237.4,222 M212,173 L238,191 Q241,194 241.6,201 L242.6,216"/>
</g>
<!-- hand drawn slab fins for magnifier 2 (in page coords) -->
<g id="m2fins">
  <path class="k2" d="M404,560 L415.4,576.5 L444.5,588.6 Q447.5,589.9 450.5,588.4 L478,571.4 L478,545 L430,548 Z"/>
  <path class="k2" d="M400,590 L404,593.4 L421,601 Q424,602.2 427,601 L452,592 L452,588 L420,580 Z"/>
  <path class="n2" d="M402,598.6 L420,606 Q423,607 426,605.8 L446,598.6"/>
  <path class="k2" d="M415.4,576.5 L416.4,583 L444.5,594 Q447.5,595.3 450.5,593.8 L478,577.6 L478,571.4 L450.5,588.4 Q447.5,589.9 444.5,588.6 Z"/>
  <path class="k2" d="M390,609.6 L392.1,610.8 L414.6,621.6 Q417.6,623 420.6,621.6 L460.7,604.2 L479,595.6 L479,584 L452,596 L426,607 L398,600 Z"/>
  <path class="k2" d="M392.1,610.8 L393.2,617.5 L414.6,626.2 Q417.6,627.6 420.6,626.2 L464.1,610.8 L479,603.6 L479,595.6 L460.7,604.2 L420.6,621.6 Q417.6,623 414.6,621.6 Z"/>
  <path class="k2" d="M393.2,625.4 L395.5,627.4 L413.5,634 Q416.5,635.2 419.5,634 L447.5,624.1 L474,613.4 L474,606 L420.6,628.6 L398,620 Z"/>
  <path class="k2" d="M395.5,627.4 L397,633.6 L413,639.6 Q416.5,640.8 420,639.4 L452,628 L470,620.6 L474,613.4 L447.5,624.1 L419.5,634 Q416.5,635.2 413.5,634 Z"/>
  <path class="k2" d="M398,638 L416,645.4 Q418.6,646 421,645 L456,631.6 L452,628 L420,639.4 Q416.5,640.8 413,639.6 L398,634 Z"/>
  <path class="n2" d="M456,598 L477,588.6 M466,612.6 L466,620 M470,596 L470,604"/>
</g>
</defs>
<g id="static">
<!-- magnifier circles -->
<circle cx="170.4" cy="243.1" r="76" fill="#fff" stroke="#000" stroke-width="2.2"/>
<circle cx="399.5" cy="570" r="76.2" fill="#fff" stroke="#000" stroke-width="2.2"/>
<!-- wedges -->
<path d="M284.4,191.5 L237.2,205 L243.2,217 Z" fill="#000"/>
<path d="M513,519.5 L466.2,533 L473.2,544.6 Z" fill="#000"/>
<!-- red arrows -->
<path d="M148.6,424.3 L150.1,344" stroke="#f00" stroke-width="2.9" stroke-linecap="round" fill="none"/>
<path d="M150.3,331.2 L145.9,345.4 L154.7,345.4 Z" fill="#f00"/>
<path d="M395.7,777.7 L395.7,670" stroke="#f00" stroke-width="2.9" stroke-linecap="round" fill="none"/>
<path d="M395.6,657 L391.1,670.8 L400.1,670.8 Z" fill="#f00"/>
<!-- tube 21 -->
<g>
<path class="k" d="M129.6,712 L122.4,801.9 L163.6,801.9 L155.6,712 Z"/>
<path d="M154.6,716 L161.6,801" stroke="#000" stroke-width="3" fill="none"/>
<path class="k" d="M129.3,712 Q129.3,706.5 142.4,706.5 Q155.5,706.5 155.5,712 Q155.5,718.5 142.4,718.5 Q129.3,718.5 129.3,712 Z"/>
<path class="k" d="M133.6,709.5 L135,689 Q135.5,684.5 142.4,684.5 Q149.5,684.5 150,689 L151.4,709.5 Q149,712.5 142.4,712.5 Q136,712.5 133.6,709.5 Z"/>
<ellipse class="k" cx="142.4" cy="689.5" rx="6" ry="3.2"/>
<ellipse cx="142.4" cy="690" rx="2.2" ry="1.4" fill="#000"/>
<path class="t" d="M137.5,692 L136.5,710.5 M140.5,693 L140,711.5 M144.5,693 L145,711.5 M147.5,692 L148.5,710.5"/>
<path class="k" d="M121,802 L165.4,802 L165.4,808.2 L121,808.2 Z" stroke-width="1.6"/>
<path class="t" d="M124,805 L124,808 M127,805 L127,808 M130,805 L130,808 M133,805 L133,808 M136,805 L136,808 M139,805 L139,808 M142,805 L142,808 M145,805 L145,808 M148,805 L148,808 M151,805 L151,808 M154,805 L154,808 M157,805 L157,808 M160,805 L160,808 M163,805 L163,808"/>
<path class="t" d="M124,798.5 L161,798.5"/>
</g>
<!-- tiny rotated mark bottom right -->
<text x="0" y="0" transform="translate(839,860) rotate(-90)" style="font-size:6px;font-weight:bold;text-anchor:start">A1</text>
</g>
<g id="mag">
<clipPath id="cp1"><circle cx="170.4" cy="243.1" r="75"/></clipPath>
<clipPath id="cp2"><circle cx="399.5" cy="570" r="75.2"/></clipPath>
<g clip-path="url(#cp1)">
 <g transform="translate(171,205) scale(1.53) translate(-320.8,-132.3)">
  <g style="--s:0.96;--fb:#fff;--c:#2b2b2b;--ws:#2b2b2b"><use href="#cyl1"/></g>
  <g style="--s:0.4;--fb:none;--fw:none;--c:#fff;--ws:#fff"><use href="#cyl1"/></g>
 </g>
 <path d="M143.2,232.1 L149.9,231 Q150.6,242 153.2,247.6 Q158,254.6 165.4,258.7 L162,258.9 Q152,255 146.5,249.8 Z" fill="#fff" stroke="#222" stroke-width="0.9"/>
 <path d="M143.6,235 L149.6,232 M144,238.4 L150.2,235.2 M144.4,241.8 L150.8,238.6 M145,245.2 L151.6,242 M145.8,248.6 L152.6,245.4 M148.4,251.4 L154.2,248.6 M151.6,254 L156.8,251.6 M155.6,256.4 L160,254.4 M159.4,258 L163,256.6" stroke="#111" stroke-width="1" fill="none"/>
</g>
<g clip-path="url(#cp2)">
 <g style="--s:0.99;--fb:#fff;--c:#2b2b2b;--ws:#2b2b2b"><g transform="translate(398.7,533.2) scale(1.48) translate(-319.6,-133.6)"><use href="#c2a"/></g><use href="#m2fins"/><g transform="translate(398.7,533.2) scale(1.48) translate(-319.6,-133.6)"><use href="#cylbase2"/><use href="#c2b"/></g><use href="#m2extra"/></g>
 <g style="--s:0.41;--fb:none;--fw:none;--c:#fff;--ws:#fff"><g transform="translate(398.7,533.2) scale(1.48) translate(-319.6,-133.6)"><use href="#c2a"/></g><use href="#m2fins"/><g transform="translate(398.7,533.2) scale(1.48) translate(-319.6,-133.6)"><use href="#cylbase2"/><use href="#c2b"/></g><use href="#m2extra"/></g>
 <path d="M381,561.6 L383.6,560.4 L396,570.8 L394,572.6 Z" fill="#fff" stroke="#222" stroke-width="0.8"/>
 <path d="M382,563.6 L384.8,561.6 M384.4,565.6 L387.2,563.6 M386.8,567.6 L389.6,565.6 M389.2,569.6 L392,567.6 M391.6,571.6 L394.4,569.6" stroke="#111" stroke-width="0.9" fill="none"/>
</g>
<g clip-path="url(#cp1)"><circle cx="171" cy="207" r="5.6" fill="#fff" stroke="#444" stroke-width="0.9"/><path d="M166.6,204.6 Q171,202.6 175.4,204.8 M166,207 Q171,205 176,207.2 M166.4,209.6 Q171,207.6 175.6,209.8 M167.8,212 Q171,210.4 174.2,212" stroke="#555" stroke-width="0.8" fill="none"/>
<circle cx="193.6" cy="222.4" r="2.2" fill="#fff" stroke="#444" stroke-width="0.8"/></g>
<g clip-path="url(#cp2)"><circle cx="398.4" cy="533.6" r="6" fill="#fff" stroke="#444" stroke-width="0.9"/><path d="M393.6,531 Q398.4,529 403.2,531.2 M393,533.6 Q398.4,531.6 403.8,533.8 M393.4,536.2 Q398.4,534.2 403.4,536.4 M395,538.6 Q398.4,537 401.8,538.6" stroke="#555" stroke-width="0.8" fill="none"/>
<circle cx="420" cy="549" r="2.2" fill="#fff" stroke="#444" stroke-width="0.8"/></g>
<circle cx="170.4" cy="243.1" r="76" fill="none" stroke="#000" stroke-width="2.2"/>
<circle cx="399.5" cy="570" r="76.2" fill="none" stroke="#000" stroke-width="2.2"/>
</g>
<g id="asm1" style="--s:1.14">
<g style="--s:1.25"><use href="#cyl1"/></g><use href="#plug"/><use href="#gasket"/><use href="#muf14"/><use href="#screw16"/><use href="#clip17"/>
<use href="#piston"/><use href="#rings"/><use href="#crank"/><use href="#pin"/><use href="#pan"/>
<use href="#cc" transform="translate(284.4,298)"/>
<use href="#cc" transform="translate(371.6,347.6) scale(1.05)"/>
<use href="#seal" transform="translate(263.4,337.4)"/>
<use href="#bearing" transform="translate(283.6,349.6)"/>
<use href="#bearing" transform="translate(425.4,431.4)"/>
<use href="#sealr" transform="translate(445.7,442.4)"/>
<use href="#clip11" transform="translate(460.8,451.2)"/>
<use href="#bolt"/>
</g>
<g id="asm2" style="--s:1.14">
<g transform="translate(230,330)">
<g style="--s:1.25"><use href="#cyl2"/></g><use href="#gasket"/><use href="#muf18"/><use href="#screw16"/><use href="#clip17"/>
<use href="#piston"/><use href="#rings"/><use href="#crank"/><use href="#pin"/><use href="#pan"/>
<use href="#cc" transform="translate(284.4,298)"/>
<use href="#cc" transform="translate(371.6,347.6) scale(1.05)"/>
<use href="#seal" transform="translate(263.4,337.4)"/>
<use href="#bearing" transform="translate(283.6,349.6)"/>
<use href="#bolt"/>
</g>
<g transform="translate(238.6,333.8)">
<use href="#bearing" transform="translate(425.4,431.4)"/>
<use href="#sealr" transform="translate(445.7,442.4)"/>
<use href="#clip11" transform="translate(460.8,451.2)"/>
</g>
</g>
<g id="labels">
<path class="l" d="M240.7,121.4 L254.3,114.3"/>
<path class="l" d="M431.4,142.1 L461.4,158.6"/>
<path class="l" d="M492.9,123.6 L507.9,132.1"/>
<path class="l" d="M527.1,78.6 L542.1,87.1"/>
<path class="l" d="M545.7,67.9 L560.7,76.4"/>
<path class="l" d="M269.3,305.7 L277.9,301.4"/>
<path class="l" d="M232.1,355.0 L251.4,345.0"/>
<path class="l" d="M254.3,367.9 L268.6,360.7"/>
<path class="l" d="M286.4,386.4 L307.9,374.3"/>
<path class="l" d="M296.4,463.6 L310.0,455.7"/>
<path class="l" d="M352.1,241.4 L365.0,234.3"/>
<path class="l" d="M352.9,257.9 L365.0,250.7"/>
<path class="l" d="M358.6,325.5 L358.6,335.0"/>
<path class="l" d="M371.7,333.0 L371.7,340.5"/>
<path class="l" d="M376.4,225.0 L380.4,225.0 L380.4,305.0 L372.1,310.7 L372.1,319.5"/>
<path class="l" d="M380.4,241.9 L377.0,243.6"/>
<path class="l" d="M380.4,264.3 L388.6,260.0"/>
<path class="l" d="M380.4,272.9 L354.3,287.1"/>
<path class="l" d="M380.4,291.4 L358.6,303.6 L358.6,312.5"/>
<path class="l" d="M372.1,200.0 L406.6,180.5 L406.6,449.3 L399.3,453.6"/>
<path class="l" d="M406.6,250.4 L399.3,254.3"/>
<path class="l" d="M406.6,314.3 L417.1,309.3"/>
<path class="l" d="M372.9,469.3 L387.9,460.7"/>
<path class="l" d="M436.4,417.4 L449.3,410.0"/>
<path class="l" d="M450.0,431.4 L454.3,422.9 L464.3,417.9"/>
<path class="l" d="M469.3,445.7 L490.0,433.6"/>
<path class="l" d="M661.4,472.1 L691.4,488.6"/>
<path class="l" d="M722.9,453.6 L737.9,462.1"/>
<path class="l" d="M757.1,408.6 L772.1,417.1"/>
<path class="l" d="M775.7,397.9 L790.7,406.4"/>
<path class="l" d="M499.3,635.7 L507.9,631.4"/>
<path class="l" d="M462.1,685.0 L481.4,675.0"/>
<path class="l" d="M484.3,697.9 L498.6,690.7"/>
<path class="l" d="M516.4,716.4 L537.9,704.3"/>
<path class="l" d="M526.4,793.6 L540.0,785.7"/>
<path class="l" d="M582.8,569.7 L595.7,562.6"/>
<path class="l" d="M583.6,586.2 L595.7,579.0"/>
<path class="l" d="M589.3,653.8 L589.3,663.3"/>
<path class="l" d="M602.4,661.3 L602.4,668.8"/>
<path class="l" d="M607.1,553.3 L611.1,553.3 L611.1,633.3 L602.8,639.0 L602.8,647.8"/>
<path class="l" d="M611.1,570.2 L607.7,571.9"/>
<path class="l" d="M611.1,592.6 L619.3,588.3"/>
<path class="l" d="M611.1,601.2 L585.0,615.4"/>
<path class="l" d="M611.1,619.7 L589.3,631.9 L589.3,640.8"/>
<path class="l" d="M602.9,528.6 L645.5,503.6 L645.5,772.1 L631.4,780.0"/>
<path class="l" d="M645.5,573.6 L638.6,577.1"/>
<path class="l" d="M645.5,637.1 L652.9,633.6"/>
<path class="l" d="M617.9,789.3 L603.6,797.1"/>
<path class="l" d="M675.0,751.2 L687.9,743.8"/>
<path class="l" d="M688.6,765.2 L692.9,756.7 L702.9,751.7"/>
<path class="l" d="M707.9,779.5 L728.6,767.4"/>
<path class="l" d="M164.5,752.0 L178.6,744.1"/>
<text x="230.3" y="128.3">13</text>
<text x="475.0" y="164.7">15</text>
<text x="520.3" y="139.0">14</text>
<text x="555.7" y="94.0">16</text>
<text x="572.9" y="83.3">17</text>
<text x="262.1" y="312.5">5</text>
<text x="212.9" y="363.3">9,10</text>
<text x="246.7" y="376.1">8</text>
<text x="277.6" y="394.0">7</text>
<text x="281.4" y="469.7">12</text>
<text x="370.0" y="236.8">3</text>
<text x="370.0" y="252.5">3</text>
<text x="393.6" y="262.5">2</text>
<text x="358.6" y="324.7">4</text>
<text x="371.7" y="331.8">5</text>
<text x="422.1" y="309.0">1</text>
<text x="393.9" y="461.4">6</text>
<text x="455.3" y="409.7">8</text>
<text x="480.5" y="417.5">9,10</text>
<text x="499.7" y="433.3">11</text>
<text x="705.0" y="494.7">15</text>
<text x="751.0" y="469.0">18</text>
<text x="785.0" y="423.3">16</text>
<text x="802.1" y="412.0">17</text>
<text x="492.1" y="642.5">5</text>
<text x="442.9" y="693.3">9,10</text>
<text x="476.7" y="706.1">8</text>
<text x="507.6" y="724.0">7</text>
<text x="511.4" y="799.7">12</text>
<text x="600.7" y="565.1">3</text>
<text x="600.7" y="580.8">3</text>
<text x="629.3" y="589.8">20</text>
<text x="589.3" y="653.0">4</text>
<text x="602.4" y="660.1">5</text>
<text x="664.0" y="633.3">19</text>
<text x="625.0" y="789.9">6</text>
<text x="693.9" y="743.5">8</text>
<text x="719.1" y="751.3">9,10</text>
<text x="738.3" y="767.1">11</text>
<text x="191.7" y="744.9">21</text>
</g>

</svg>
</body></html>
